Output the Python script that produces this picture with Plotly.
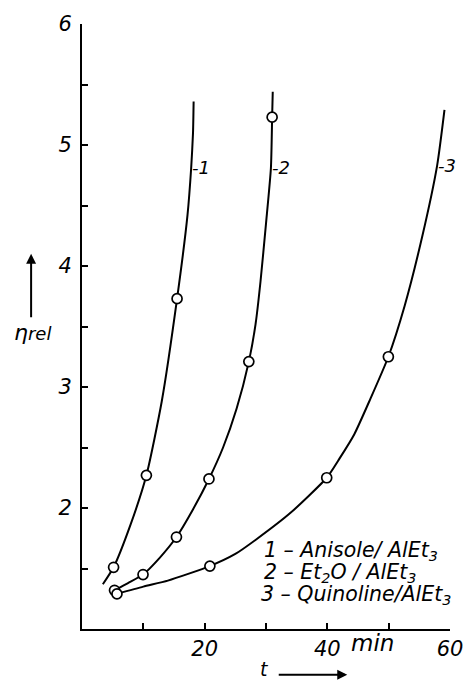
import plotly.graph_objects as go

# ---- data ----
curve1_x = [3.4, 5.15, 7.9, 10.5, 13.0, 15.5, 17.2, 17.8, 18.1, 18.2]
curve1_y = [1.37, 1.51, 1.86, 2.27, 2.88, 3.73, 4.42, 4.81, 5.10, 5.36]
curve2_x = [5.3, 7.5, 9.95, 12.7, 15.4, 18.0, 20.7, 23.0, 25.2, 27.2, 28.3, 29.1, 30.0, 30.8, 31.0, 31.1]
curve2_y = [1.32, 1.38, 1.45, 1.59, 1.76, 1.98, 2.24, 2.50, 2.82, 3.21, 3.52, 3.87, 4.35, 4.81, 5.23, 5.44]
curve3_x = [5.7, 10.0, 14.0, 20.85, 25.0, 28.4, 34.0, 39.9, 42.0, 44.4, 47.0, 49.95, 52.6, 55.5, 57.9, 59.1]
curve3_y = [1.29, 1.35, 1.40, 1.52, 1.62, 1.74, 1.96, 2.25, 2.41, 2.61, 2.90, 3.25, 3.67, 4.25, 4.83, 5.29]

points1_x = [5.15, 10.5, 15.5]
points1_y = [1.51, 2.27, 3.73]
points2_x = [5.3, 9.95, 15.4, 20.7, 27.2, 31.0]
points2_y = [1.32, 1.45, 1.76, 2.24, 3.21, 5.23]
points3_x = [5.7, 20.85, 39.9, 49.95]
points3_y = [1.29, 1.52, 2.25, 3.25]

curve_labels = ["1", "2", "3"]
label_x = [17.8, 30.8, 57.9]
label_y = [4.81, 4.81, 4.83]

legend_lines = ["1 – Anisole/ AlEt<sub>3</sub>",
                "2 – Et<sub>2</sub>O / AlEt<sub>3</sub>",
                "3 – Quinoline/AlEt<sub>3</sub>"]

x_tickvals = [10, 20, 30, 40, 50, 60]
x_ticktext = ["", "20", "", "40", "", "60"]
y_tickvals = [1.5, 2, 2.5, 3, 3.5, 4, 4.5, 5, 5.5, 6]
y_ticktext = ["", "2", "", "3", "", "4", "", "5", "", "6"]

# ---- figure ----
W, H = 475, 681
L, R, T, B = 82, 17, 21, 52
FONT = "DejaVu Sans"


def px(xp, yp):
    """convert page pixel to paper coords"""
    return (xp - L) / (W - L - R), (H - B - yp) / (H - T - B)


fig = go.Figure()
for cx, cy in [(curve1_x, curve1_y), (curve2_x, curve2_y), (curve3_x, curve3_y)]:
    fig.add_trace(go.Scatter(x=cx, y=cy, mode="lines",
                             line=dict(color="black", width=2, shape="spline", smoothing=0.6),
                             hoverinfo="skip", showlegend=False))
for mx, my in [(points1_x, points1_y), (points2_x, points2_y), (points3_x, points3_y)]:
    fig.add_trace(go.Scatter(x=mx, y=my, mode="markers",
                             marker=dict(symbol="circle", size=10, color="white",
                                         line=dict(color="black", width=1.7)),
                             showlegend=False))

annotations = []
for t, lx, ly in zip(curve_labels, label_x, label_y):
    annotations.append(dict(x=lx, y=ly, xref="x", yref="y", text="-" + t,
                            showarrow=False, xanchor="left", yanchor="middle", xshift=-1,
                            font=dict(family=FONT, size=18, color="black", style="italic")))

leg_px = [(266, 551), (266, 573), (263, 595)]
for txt, (lxp, lyp) in zip(legend_lines, leg_px):
    ax_, ay_ = px(lxp, lyp)
    annotations.append(dict(x=ax_, y=ay_, xref="paper", yref="paper", text=txt,
                            showarrow=False, xanchor="left", yanchor="middle",
                            font=dict(family=FONT, size=20.5, color="black", style="italic")))

# "min" after the 40 tick label
mx_, my_ = px(355, 643)
annotations.append(dict(x=mx_, y=my_, xref="paper", yref="paper", text="min",
                        showarrow=False, xanchor="left", yanchor="middle",
                        font=dict(family=FONT, size=23, color="black", style="italic")))

# y-axis title: arrow + eta rel
hx, hy = px(30, 252)
annotations.append(dict(x=hx, y=hy, xref="paper", yref="paper", text="",
                        showarrow=True, ax=0, ay=65, arrowhead=2, arrowsize=1,
                        arrowwidth=2, arrowcolor="black"))
ex, ey = px(31, 331)
annotations.append(dict(x=ex, y=ey, xref="paper", yref="paper",
                        text="<span style='font-size:22px'>η</span>rel",
                        showarrow=False, xanchor="center", yanchor="middle",
                        font=dict(family=FONT, size=18, color="black", style="italic")))

# x-axis title: t + arrow
tx, ty = px(268, 669)
annotations.append(dict(x=tx, y=ty, xref="paper", yref="paper", text="t",
                        showarrow=False, xanchor="center", yanchor="middle",
                        font=dict(family=FONT, size=19, color="black", style="italic")))
ahx, ahy = px(353, 675)
annotations.append(dict(x=ahx, y=ahy, xref="paper", yref="paper", text="",
                        showarrow=True, ax=-70, ay=0, arrowhead=2, arrowsize=1,
                        arrowwidth=2, arrowcolor="black"))

axis_common = dict(showgrid=False, zeroline=False, showline=True, linecolor="black",
                   linewidth=2, ticks="inside", ticklen=6, tickwidth=1.5, tickcolor="black",
                   tickfont=dict(family=FONT, size=21, color="black", style="italic"))

fig.update_layout(
    width=W, height=H,
    margin=dict(l=L, r=R, t=T, b=B, pad=0),
    plot_bgcolor="white", paper_bgcolor="white",
    xaxis=dict(range=[0, 60], tickmode="array", tickvals=x_tickvals, ticktext=x_ticktext,
               ticklabelstandoff=0, **axis_common),
    yaxis=dict(range=[1, 6], tickmode="array", tickvals=y_tickvals, ticktext=y_ticktext,
               ticklabelstandoff=4, **axis_common),
    annotations=annotations,
    showlegend=False,
)

fig.write_html("out.html")
